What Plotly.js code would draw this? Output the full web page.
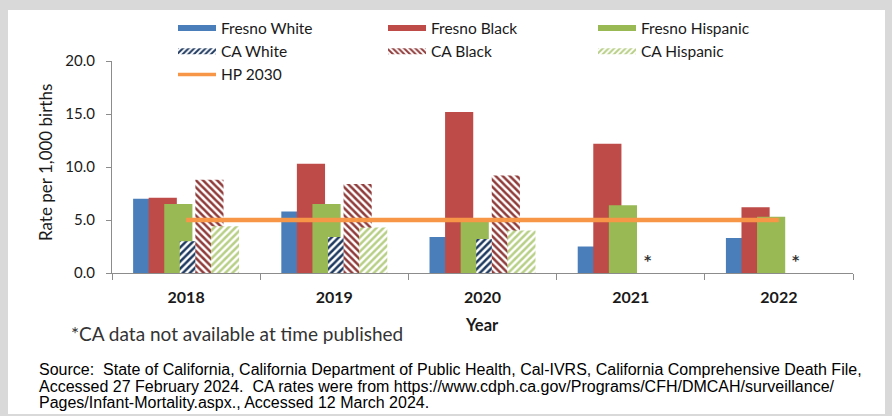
<!DOCTYPE html>
<html>
<head>
<meta charset="utf-8">
<script src="https://cdn.plot.ly/plotly-3.0.1.min.js"></script>
<style>
  html, body { margin: 0; padding: 0; background: #d9d9d9; }
  #wrap { position: relative; width: 892px; height: 416px; background: #d9d9d9; overflow: hidden; }
  #inner { position: absolute; left: 8px; top: 10px; width: 877px; height: 404px; background: #ffffff; }
  #chart { position: absolute; left: 0; top: 0; width: 892px; height: 416px; }
</style>
</head>
<body>
<div id="wrap"><div id="inner"></div><div id="chart"></div></div>
<script>
// ---- data ----
var years = ['2018', '2019', '2020', '2021', '2022'];
var fresnoWhite    = [7.0, 5.8, 3.4, 2.5, 3.3];
var fresnoBlack    = [7.1, 10.3, 15.2, 12.2, 6.2];
var fresnoHispanic = [6.5, 6.5, 4.9, 6.4, 5.3];
var caWhite        = [3.0, 3.4, 3.2, null, null];
var caBlack        = [8.8, 8.4, 9.2, null, null];
var caHispanic     = [4.4, 4.3, 4.0, null, null];
var hp2030         = [5.0, 5.0, 5.0, 5.0, 5.0];
var yTicks = [0, 5, 10, 15, 20];

var noteText = '*CA data not available at time published';
var sourceLines = [
  'Source:  State of California, California Department of Public Health, Cal-IVRS, California Comprehensive Death File,',
  'Accessed 27 February 2024.  CA rates were from https://www.cdph.ca.gov/Programs/CFH/DMCAH/surveillance/',
  'Pages/Infant-Mortality.aspx., Accessed 12 March 2024.'
];

// ---- styling ----
var BAR_W = 0.19, STEP = 0.105, START = -0.3575;
function solidBar(name, vals, color, k) {
  return { type: 'bar', name: name, x: years, y: vals, offset: START + k * STEP, width: BAR_W,
           marker: { color: color, line: { width: 0 } }, hoverinfo: 'skip' };
}
function hatchBar(name, vals, fg, shape, k) {
  return { type: 'bar', name: name, x: years, y: vals, offset: START + k * STEP, width: BAR_W,
           marker: { color: '#ffffff', line: { width: 0 },
                     pattern: { shape: shape, fgcolor: fg, bgcolor: '#ffffff', size: 5, solidity: 0.5, fillmode: 'replace' } },
           hoverinfo: 'skip' };
}

var traces = [
  solidBar('Fresno White', fresnoWhite, '#4a7ebb', 0),
  solidBar('Fresno Black', fresnoBlack, '#be4b48', 1),
  solidBar('Fresno Hispanic', fresnoHispanic, '#98b954', 2),
  hatchBar('CA White', caWhite, '#1f3a60', '/', 3),
  hatchBar('CA Black', caBlack, '#8f3b3a', '\\', 4),
  hatchBar('CA Hispanic', caHispanic, '#b8cf86', '/', 5),
  { type: 'scatter', mode: 'lines', name: 'HP 2030', x: years, y: hp2030,
    line: { color: '#f79646', width: 4.5 }, hoverinfo: 'skip' }
];

var PL = 112, PT = 61, PB = 143, PW = 892 - 112 - 39, PH = 416 - PT - PB;
function px(x) { return (x - PL) / PW; }
function py(y) { return (PT + PH - y) / PH; }

var annotations = [];
// asterisks where CA data are missing
years.forEach(function (yr, i) {
  if (caWhite[i] === null && caBlack[i] === null && caHispanic[i] === null) {
    annotations.push({ xref: 'x', yref: 'y', x: i + 0.118, y: 1.2, text: '<b>*</b>', showarrow: false,
      xanchor: 'center', yanchor: 'middle', font: { family: 'DejaVu Sans', size: 14, color: '#333333' } });
  }
});
annotations.push({ xref: 'paper', yref: 'paper', x: px(45), y: py(163), text: 'Rate per 1,000 births',
  textangle: -90, showarrow: false, xanchor: 'center', yanchor: 'middle',
  font: { family: 'Lato', size: 17, color: '#1a1a1a' } });
annotations.push({ xref: 'paper', yref: 'paper', x: px(482), y: py(325), text: '<b>Year</b>',
  showarrow: false, xanchor: 'center', yanchor: 'middle',
  font: { family: 'Lato', size: 16.5, color: '#1a1a1a' } });
annotations.push({ xref: 'paper', yref: 'paper', x: px(69), y: py(333), text: noteText,
  showarrow: false, xanchor: 'left', yanchor: 'middle',
  font: { family: 'Lato', size: 19, color: '#333333' } });
var srcY = [369, 386, 402];
sourceLines.forEach(function (t, i) {
  annotations.push({ xref: 'paper', yref: 'paper', x: px(37), y: py(srcY[i]), text: t,
    showarrow: false, xanchor: 'left', yanchor: 'middle',
    font: { family: 'Liberation Sans, Arial, sans-serif', size: 16, color: '#000000' } });
});

var layout = {
  width: 892, height: 416,
  margin: { l: PL, r: 39, t: PT, b: PB, pad: 0 },
  paper_bgcolor: 'rgba(0,0,0,0)', plot_bgcolor: 'rgba(0,0,0,0)',
  font: { family: 'Lato', size: 15, color: '#1a1a1a' },
  barmode: 'overlay',
  showlegend: true,
  legend: { orientation: 'h', x: px(173), xanchor: 'left', y: py(11.5), yanchor: 'top',
            entrywidth: 157, entrywidthmode: 'pixels', itemwidth: 38, traceorder: 'normal',
            font: { family: 'Lato', size: 15.5, color: '#1a1a1a' }, bgcolor: 'rgba(0,0,0,0)' },
  xaxis: { type: 'category', range: [-0.5, 4.5], fixedrange: true,
           showline: true, linecolor: '#8c8c8c', linewidth: 1,
           ticks: 'outside', tickson: 'boundaries', ticklen: 6, tickcolor: '#8c8c8c',
           showgrid: false, zeroline: false, ticklabelstandoff: 10,
           tickfont: { family: 'Lato', size: 16, color: '#1a1a1a', weight: 'bold' } },
  yaxis: { range: [0, 20], fixedrange: true, tickvals: yTicks, tickformat: '.1f',
           showline: true, linecolor: '#8c8c8c', linewidth: 1,
           ticks: 'outside', ticklen: 5, tickcolor: '#8c8c8c',
           showgrid: false, zeroline: false, ticklabelstandoff: 8,
           tickfont: { family: 'Lato', size: 15, color: '#1a1a1a' } },
  annotations: annotations
};

function widenLegendSwatches(gd) {
  var center = null;
  gd.querySelectorAll('.legend .traces').forEach(function (g) {
    g.querySelectorAll('.legendpoints path').forEach(function (p) {
      var d = (p.getAttribute('d') || '').replace(/\s/g, '');
      if (d.indexOf('M6,6H-6V-6H6Z') === 0) {
        var tr = p.getAttribute('transform') || '';
        var m = /translate\(\s*([-\d.]+)/.exec(tr);
        if (m) center = parseFloat(m[1]);
        p.setAttribute('d', 'M-19,3H19V-3H-19Z');
      }
    });
  });
  if (center === null) center = 26;
  gd.querySelectorAll('.legend .traces .legendlines path').forEach(function (p) {
    p.setAttribute('d', 'M' + (center - 19) + ',0h38');
    p.style.strokeWidth = '3.5px';
  });
}

Plotly.newPlot('chart', traces, layout, { staticPlot: true, displayModeBar: false }).then(function (gd) {
  widenLegendSwatches(gd);
});
</script>
</body>
</html>
